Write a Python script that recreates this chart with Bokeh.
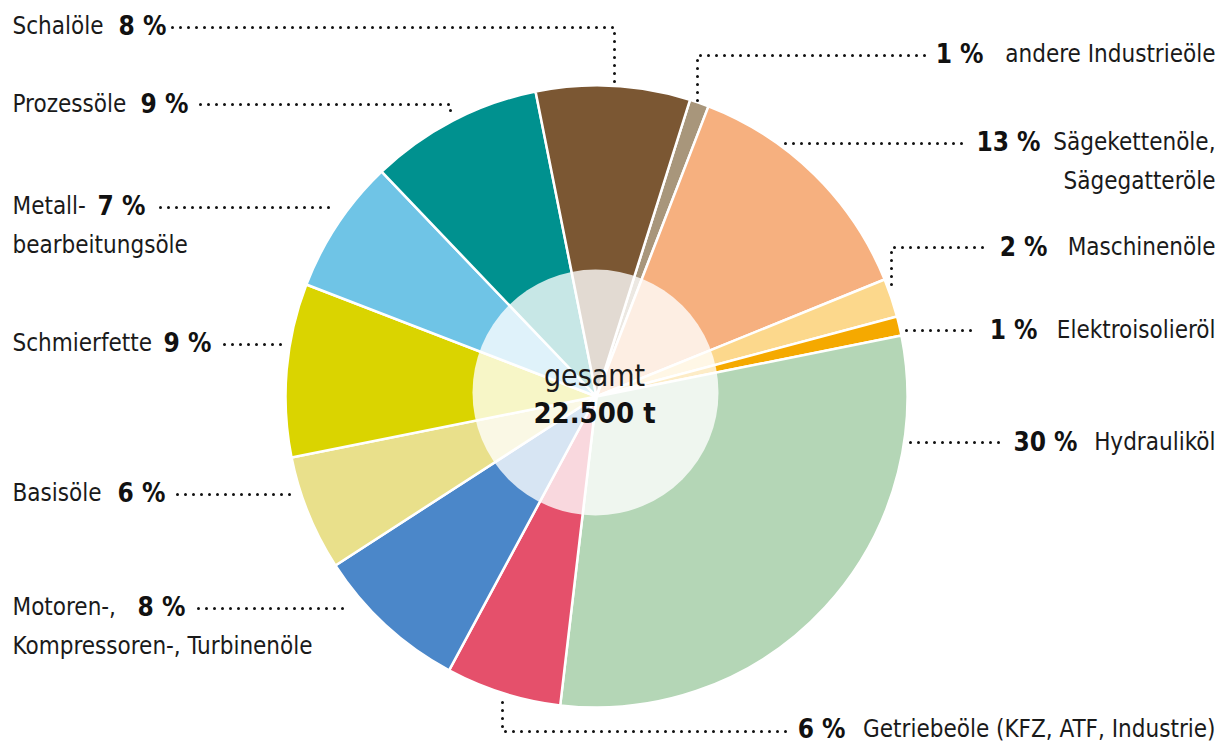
import math
from bokeh.plotting import figure
from bokeh.models import Range1d, ColumnDataSource
from bokeh.core.properties import value
from bokeh.embed import file_html
from bokeh.resources import INLINE

# ---------------- data ----------------
categories = ["andere Industrieöle", "Sägekettenöle, Sägegatteröle", "Maschinenöle",
              "Elektroisolieröl", "Hydrauliköl", "Getriebeöle (KFZ, ATF, Industrie)",
              "Motoren-, Kompressoren-, Turbinenöle", "Basisöle", "Schmierfette",
              "Metallbearbeitungsöle", "Prozessöle", "Schalöle"]
shares = [1, 13, 2, 1, 30, 6, 8, 6, 9, 7, 9, 8]
colors = ["#a8967b", "#f6b07f", "#fcd88c", "#f5a900", "#b4d6b6", "#e5506b",
          "#4b87c9", "#e9e08b", "#dad400", "#6fc4e6", "#00918f", "#7b5733"]
total_label = "gesamt"
total_value = "22.500 t"
name_line1 = ["andere Industrieöle", "Sägekettenöle,", "Maschinenöle", "Elektroisolieröl",
              "Hydrauliköl", "Getriebeöle (KFZ, ATF, Industrie)", "Motoren-,", "Basisöle",
              "Schmierfette", "Metall-", "Prozessöle", "Schalöle"]
name_line2 = ["", "Sägegatteröle", "", "", "", "", "Kompressoren-, Turbinenöle", "", "",
              "bearbeitungsöle", "", ""]
pct_labels = [f"{s} %" for s in shares]

# ---------------- layout ----------------
W, H = 1221, 744
CX, CY, R = 596, 396, 311
ICX, ICY, IR = 595, 392, 123
START_DEG = 17.5
FONT = "DejaVu Sans Condensed, Roboto Condensed, Arial Narrow, Roboto, sans-serif"
NAME_SIZE = "24px"
NUM_SIZE = "26px"

label_side = ["R", "R", "R", "R", "R", "R", "L", "L", "L", "L", "L", "L"]
label_y = [53, 141, 246, 329, 441, 728, 606, 492, 342, 205, 103, 25]
# left side: left edge of number; right side: right edge of number
num_x = [983, 1040, 1047, 1037, 1077, 845, 137, 117, 163, 97, 140, 118]
line2_dy = 39
leaders = [
    [(697, 100), (697, 55), (926, 55)],
    [(785, 143), (964, 143)],
    [(891, 284), (891, 247), (988, 247)],
    [(906, 330), (978, 330)],
    [(910, 442), (1002, 442)],
    [(502, 702), (502, 731), (788, 731)],
    [(198, 608), (350, 608)],
    [(177, 494), (294, 494)],
    [(224, 344), (284, 344)],
    [(160, 207), (334, 207)],
    [(200, 104), (450, 104), (450, 114)],
    [(172, 27), (614, 27), (614, 82)],
]

def fy(y):
    return H - y

p = figure(width=W, height=H, x_range=Range1d(0, W), y_range=Range1d(0, H),
           output_backend="svg", toolbar_location=None,
           x_axis_type=None, y_axis_type=None, min_border=0)
p.grid.visible = False
p.outline_line_color = None
p.background_fill_color = "white"
p.border_fill_color = "white"

cum = 0.0
starts, ends = [], []
for s in shares:
    a0 = math.radians(START_DEG) + cum / 100 * 2 * math.pi
    cum += s
    a1 = math.radians(START_DEG) + cum / 100 * 2 * math.pi
    starts.append(math.pi / 2 - a0)
    ends.append(math.pi / 2 - a1)

src = ColumnDataSource(dict(cat=categories, share=shares, color=colors,
                            start=starts, end=ends))
p.wedge(x=CX, y=fy(CY), radius=R, start_angle="start", end_angle="end",
        direction="clock", fill_color="color", line_color="white", line_width=2.5,
        source=src)

p.circle(x=ICX, y=fy(ICY), radius=IR, fill_color="white", fill_alpha=0.78,
         line_color=None)

p.text(x=[594], y=[fy(375)], text=[total_label], text_font=value(FONT),
       text_font_size="30px", text_align="center", text_baseline="middle",
       text_color="#1a1a1a")
p.text(x=[594], y=[fy(412)], text=[total_value], text_font=value(FONT),
       text_font_size="29px", text_font_style="bold", text_align="center",
       text_baseline="middle", text_color="#111111")

for i in range(len(categories)):
    y = label_y[i]
    if label_side[i] == "L":
        nx, nalign, tx, talign = 12, "left", num_x[i], "left"
    else:
        nx, nalign, tx, talign = 1215, "right", num_x[i], "right"
    p.text(x=[nx], y=[fy(y)], text=[name_line1[i]], text_font=value(FONT),
           text_font_size=NAME_SIZE, text_align=nalign, text_baseline="middle",
           text_color="#1a1a1a")
    p.text(x=[tx], y=[fy(y)], text=[pct_labels[i]], text_font=value(FONT),
           text_font_size=NUM_SIZE, text_font_style="bold", text_align=talign,
           text_baseline="middle", text_color="#111111")
    if name_line2[i]:
        p.text(x=[nx], y=[fy(y + line2_dy)], text=[name_line2[i]], text_font=value(FONT),
               text_font_size=NAME_SIZE, text_align=nalign, text_baseline="middle",
               text_color="#1a1a1a")
    pts = leaders[i]
    p.line(x=[q[0] for q in pts], y=[fy(q[1]) for q in pts], line_color="#111111",
           line_width=3, line_dash="0 8", line_cap="round")

open("out.html", "w").write(file_html(p, INLINE))
